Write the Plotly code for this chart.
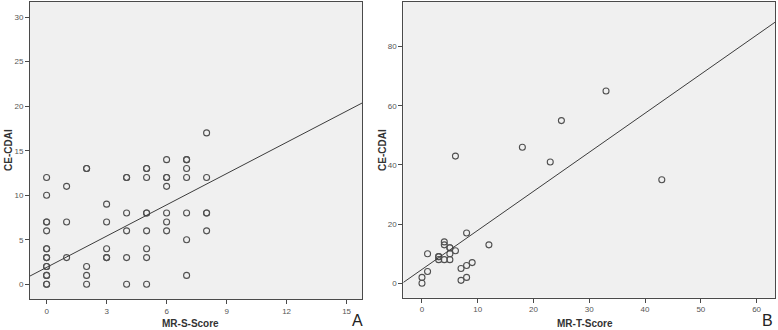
import plotly.graph_objects as go

# Panel A data (MR-S-Score vs CE-CDAI)
a_x = [0,0,0,0,0,0,0,0,0,0,0,0,0,0,0,
       1,1,1,
       2,2,2,2,2,
       3,3,3,3,3,
       4,4,4,4,4,4,
       5,5,5,5,5,5,5,5,5,
       6,6,6,6,6,6,6,
       7,7,7,7,7,7,7,
       8,8,8,8,8]
a_y = [12,10,7,7,6,4,4,3,3,2,2,1,1,0,0,
       11,7,3,
       13,13,2,1,0,
       9,7,4,3,3,
       12,12,8,6,3,0,
       13,13,12,8,8,6,4,3,0,
       14,12,12,11,8,7,6,
       14,14,13,12,8,5,1,
       17,12,8,8,6]
a_fit = (1.9, 1.17)   # intercept, slope
a_xrange = [-0.83, 15.77]
a_yrange = [-1.65, 31.7]
a_xticks = [0, 3, 6, 9, 12, 15]
a_yticks = [0, 5, 10, 15, 20, 25, 30]

# Panel B data (MR-T-Score vs CE-CDAI)
b_x = [0,0,1,1,3,3,3,4,4,4,5,5,5,5,6,6,7,7,8,8,8,9,12,18,23,25,33,43]
b_y = [0,2,4,10,8,9,9,8,13,14,8,10,12,12,11,43,1,5,2,6,17,7,13,46,41,55,65,35]
b_fit = (4.7, 1.32)
b_xrange = [-3.35, 63.3]
b_yrange = [-4.87, 95.1]
b_xticks = [0, 10, 20, 30, 40, 50, 60]
b_yticks = [0, 20, 40, 60, 80]

FONT = "Liberation Sans, Arial, sans-serif"
EDGE = "#4a4a4a"
MARK = "#505050"

fig = go.Figure()
for xs, ys, fit, xr, xa, ya in [(a_x, a_y, a_fit, a_xrange, "x", "y"),
                                 (b_x, b_y, b_fit, b_xrange, "x2", "y2")]:
    fig.add_trace(go.Scatter(x=xs, y=ys, mode="markers", xaxis=xa, yaxis=ya,
                             marker=dict(symbol="circle-open", size=6,
                                         color=MARK, line=dict(width=1.1, color=MARK)),
                             showlegend=False, hoverinfo="x+y"))
    fig.add_trace(go.Scatter(x=xr, y=[fit[0] + fit[1] * v for v in xr],
                             mode="lines", xaxis=xa, yaxis=ya,
                             line=dict(color="#3c3c3c", width=1),
                             showlegend=False, hoverinfo="skip"))

axis_common = dict(showline=True, mirror=True, linecolor=EDGE, linewidth=1,
                   ticks="outside", ticklen=4, tickcolor=EDGE, showgrid=False,
                   zeroline=False, tickfont=dict(family=FONT, size=8, color="#555555"))

fig.update_layout(
    width=778, height=330,
    margin=dict(l=0, r=0, t=0, b=0),
    paper_bgcolor="white", plot_bgcolor="#f0f0f0",
    xaxis=dict(domain=[30/778, 362/778], range=a_xrange, tickvals=a_xticks,
               anchor="y", **axis_common),
    yaxis=dict(domain=[31/330, 328/330], range=a_yrange, tickvals=a_yticks,
               anchor="x", **axis_common),
    xaxis2=dict(domain=[403.3/778, 775/778], range=b_xrange, tickvals=b_xticks,
                anchor="y2", **axis_common),
    yaxis2=dict(domain=[32.3/330, 328/330], range=b_yrange, tickvals=b_yticks,
                anchor="x2", **axis_common),
)

title_font = dict(family=FONT, size=10, color="#333333")
ann = [
    dict(text="<b>CE-CDAI</b>", x=8/778, y=1 - 150/330, textangle=-90),
    dict(text="<b>MR-S-Score</b>", x=190/778, y=1 - 323/330),
    dict(text="<b>CE-CDAI</b>", x=382/778, y=1 - 150/330, textangle=-90),
    dict(text="<b>MR-T-Score</b>", x=585/778, y=1 - 323/330),
]
for a in ann:
    fig.add_annotation(xref="paper", yref="paper", showarrow=False,
                       xanchor="center", yanchor="middle", font=title_font, **a)
for t, xp in [("A", 357), ("B", 767)]:
    fig.add_annotation(text=t, xref="paper", yref="paper", x=xp/778, y=1 - 320/330,
                       showarrow=False, xanchor="center", yanchor="middle",
                       font=dict(family=FONT, size=16, color="#222222"))

fig.write_html("out.html", config={"displayModeBar": False},
               post_script="document.body.style.margin='0';document.body.style.padding='0';document.body.style.overflow='hidden';")
